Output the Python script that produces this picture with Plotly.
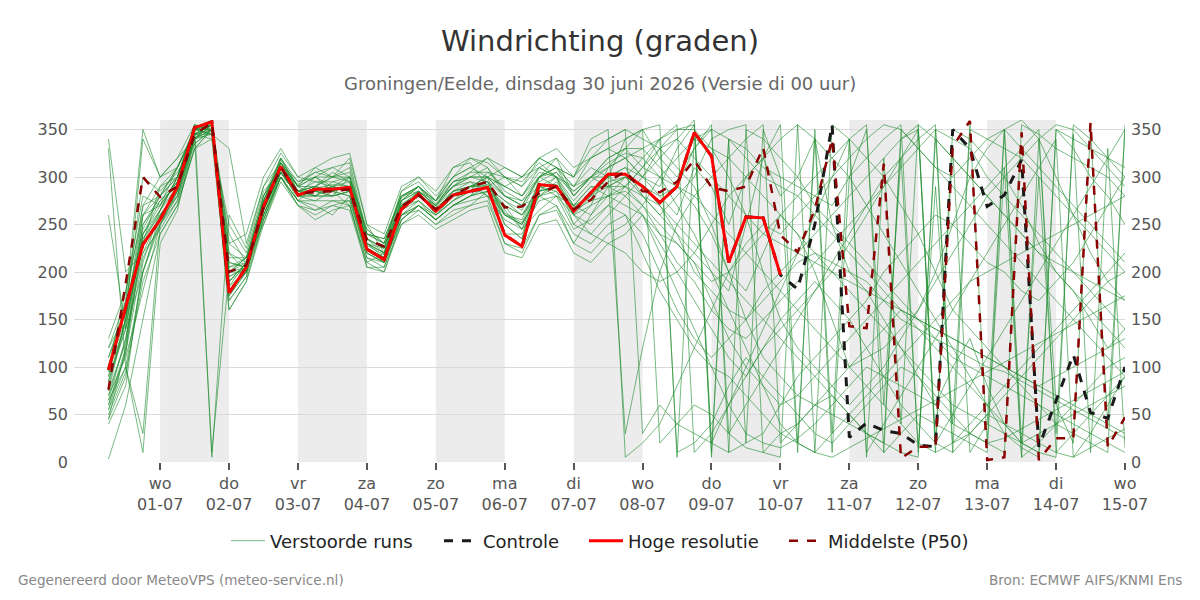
import pandas as pd
import plotly.graph_objects as go

# ---------------- data ----------------
start = "2026-06-30 06:00"
n_steps = 60
times = pd.date_range(start, periods=n_steps, freq="6h")

hres = [97, 163, 229, 255, 290, 352, 358, 178, 205, 269,
        311, 281, 287, 287, 289, 224, 213, 266, 282, 264,
        281, 285, 289, 239, 227, 292, 290, 264, 284, 303,
        303, 290, 273, 290, 347, 322, 210, 258, 257, 197]

control = [97, 163, 229, 255, 290, 352, 358, 178, 205, 269,
           311, 281, 287, 287, 289, 224, 213, 266, 282, 264,
           281, 285, 289, 239, 227, 292, 290, 264, 284, 303,
           303, 290, 273, 290, 347, 322, 210, 258, 257, 197,
           182, 250, 355, 26, 41, 33, 30, 18, 16, 350,
           330, 269, 281, 318, 16, 65, 113, 52, 46, 100]

p50 = [76, 190, 300, 279, 290, 345, 357, 200, 207, 268,
       310, 283, 284, 285, 287, 234, 227, 269, 281, 266,
       281, 290, 295, 268, 269, 283, 290, 266, 276, 295,
       306, 285, 284, 295, 318, 289, 285, 290, 331, 239,
       221, 266, 340, 143, 141, 314, 4, 16, 16, 332,
       359, 2, 5, 347, 2, 25, 25, 357, 16, 47]

members = [
    [60, 120, 250, 280, 300, 340, 350, 200, 210, 265, 315, 290, 280, 295, 300, 230, 215, 270, 285, 270,
     290, 300, 295, 260, 250, 285, 300, 250, 270, 310, 320, 300, 280, 260, 310, 290, 250, 300, 320, 280,
     300, 340, 250, 200, 180, 150, 120, 90, 60, 100, 130, 80, 40, 20, 10, 350, 330, 300, 280, 250],
    [100, 180, 280, 270, 310, 350, 345, 220, 200, 260, 300, 275, 270, 260, 280, 215, 205, 260, 275, 255,
     270, 280, 300, 290, 280, 300, 310, 280, 300, 320, 330, 310, 300, 290, 270, 240, 200, 180, 220, 260,
     240, 200, 150, 100, 80, 60, 40, 20, 10, 350, 340, 320, 300, 270, 230, 200, 180, 150, 120, 140],
    [45, 90, 200, 260, 280, 345, 355, 170, 195, 280, 320, 285, 290, 305, 295, 235, 225, 285, 300, 280,
     300, 320, 310, 280, 270, 280, 270, 240, 230, 250, 260, 220, 180, 150, 120, 100, 90, 70, 50, 30,
     20, 10, 355, 340, 320, 300, 270, 240, 200, 160, 140, 120, 100, 80, 60, 40, 30, 20, 10, 355],
    [340, 200, 220, 245, 275, 330, 350, 190, 210, 275, 310, 280, 300, 285, 270, 210, 220, 275, 290, 275,
     310, 315, 290, 300, 280, 310, 300, 290, 310, 300, 340, 350, 320, 300, 330, 355, 10, 20, 30, 60,
     90, 110, 130, 150, 170, 200, 220, 240, 260, 250, 230, 210, 200, 180, 170, 190, 210, 240, 270, 300],
    [80, 150, 230, 290, 300, 355, 5, 260, 225, 290, 325, 300, 295, 290, 285, 245, 230, 260, 265, 250,
     260, 270, 285, 270, 245, 265, 280, 270, 290, 280, 270, 260, 240, 230, 210, 190, 200, 230, 250, 240,
     260, 280, 300, 320, 340, 355, 350, 330, 310, 300, 320, 340, 350, 5, 20, 40, 60, 80, 100, 110],
    [120, 170, 270, 300, 320, 340, 360, 230, 215, 250, 300, 270, 260, 270, 275, 220, 210, 255, 270, 260,
     275, 290, 300, 310, 300, 320, 310, 300, 330, 340, 350, 30, 60, 40, 30, 20, 10, 350, 340, 320,
     300, 270, 250, 230, 210, 190, 170, 150, 130, 110, 100, 90, 80, 70, 60, 50, 40, 30, 20, 10],
    [55, 100, 10, 230, 265, 340, 355, 160, 190, 255, 305, 285, 285, 280, 300, 240, 235, 280, 290, 265,
     285, 290, 280, 230, 220, 260, 270, 230, 260, 290, 280, 300, 330, 350, 350, 330, 300, 260, 200, 150,
     120, 100, 80, 60, 80, 100, 130, 160, 190, 220, 250, 280, 300, 320, 340, 355, 350, 330, 310, 290],
    [90, 140, 240, 275, 295, 350, 350, 210, 205, 265, 315, 290, 310, 300, 320, 250, 220, 270, 280, 270,
     295, 300, 300, 250, 235, 300, 320, 280, 300, 290, 300, 280, 270, 240, 200, 180, 160, 150, 170, 190,
     210, 220, 210, 200, 190, 170, 150, 140, 130, 120, 110, 100, 95, 85, 75, 65, 55, 45, 35, 25],
    [70, 110, 180, 250, 285, 345, 340, 250, 220, 285, 305, 280, 275, 285, 290, 225, 210, 265, 285, 260,
     280, 285, 305, 300, 290, 310, 300, 260, 250, 270, 290, 310, 340, 10, 20, 40, 80, 110, 90, 70,
     50, 30, 20, 40, 60, 80, 100, 90, 70, 50, 30, 20, 10, 355, 345, 330, 320, 310, 300, 280],
    [110, 160, 300, 285, 305, 335, 350, 180, 200, 270, 310, 275, 290, 285, 280, 225, 215, 270, 275, 260,
     275, 285, 290, 240, 240, 280, 295, 270, 280, 300, 310, 280, 260, 280, 300, 340, 350, 355, 10, 30,
     40, 60, 70, 50, 30, 20, 10, 5, 350, 340, 330, 300, 280, 260, 240, 220, 200, 180, 160, 140],
    [40, 80, 210, 265, 290, 350, 355, 190, 210, 260, 300, 285, 280, 290, 300, 230, 225, 275, 285, 270,
     290, 295, 280, 270, 260, 290, 280, 260, 240, 230, 220, 200, 190, 200, 220, 250, 280, 300, 320, 340,
     355, 10, 30, 50, 70, 90, 110, 130, 150, 170, 190, 200, 210, 220, 230, 240, 250, 260, 270, 280],
    [130, 180, 260, 290, 310, 345, 345, 240, 210, 275, 315, 285, 295, 295, 290, 235, 220, 260, 270, 255,
     270, 280, 285, 260, 255, 295, 305, 285, 300, 320, 330, 330, 310, 290, 280, 260, 240, 220, 200, 180,
     160, 140, 120, 100, 110, 120, 140, 160, 200, 250, 300, 330, 350, 360, 340, 300, 260, 220, 190, 170],
    [65, 130, 230, 255, 280, 340, 10, 200, 215, 265, 305, 280, 285, 280, 285, 230, 220, 275, 290, 270,
     285, 290, 295, 280, 270, 300, 290, 270, 290, 290, 290, 270, 250, 230, 210, 170, 130, 100, 80, 60,
     70, 90, 110, 130, 150, 170, 190, 210, 230, 250, 270, 290, 310, 330, 350, 10, 30, 50, 70, 90],
    [85, 150, 340, 300, 320, 355, 350, 210, 205, 270, 320, 290, 290, 300, 305, 240, 230, 285, 295, 275,
     300, 310, 300, 290, 300, 320, 330, 310, 320, 330, 340, 350, 355, 5, 340, 330, 320, 300, 280, 260,
     240, 220, 200, 180, 160, 140, 120, 100, 80, 60, 50, 40, 30, 20, 30, 40, 50, 60, 70, 80],
    [50, 95, 190, 240, 270, 330, 340, 170, 195, 255, 300, 275, 265, 275, 270, 205, 205, 250, 265, 250,
     265, 270, 275, 230, 225, 260, 265, 230, 220, 240, 250, 270, 300, 320, 340, 350, 30, 60, 90, 120,
     150, 180, 210, 240, 270, 300, 320, 340, 355, 20, 40, 60, 80, 100, 120, 140, 160, 180, 200, 220],
    [75, 125, 260, 270, 295, 345, 355, 185, 210, 270, 310, 285, 280, 290, 285, 225, 215, 270, 280, 265,
     285, 290, 290, 260, 250, 285, 290, 260, 280, 290, 300, 290, 280, 290, 330, 350, 340, 320, 300, 290,
     280, 260, 240, 220, 200, 180, 160, 140, 120, 100, 80, 60, 40, 20, 10, 5, 355, 340, 320, 300],
    [95, 160, 240, 265, 300, 350, 360, 200, 200, 260, 305, 280, 285, 290, 295, 230, 220, 265, 280, 265,
     280, 290, 295, 265, 245, 290, 300, 275, 295, 310, 320, 300, 290, 330, 355, 10, 340, 20, 350, 300,
     10, 350, 30, 340, 5, 320, 40, 355, 20, 330, 10, 40, 350, 20, 300, 30, 345, 10, 330, 15],
    [60, 115, 215, 250, 285, 340, 350, 175, 200, 265, 305, 280, 280, 280, 285, 220, 210, 265, 275, 260,
     275, 285, 290, 270, 260, 280, 285, 265, 275, 280, 290, 280, 260, 240, 220, 200, 180, 250, 320, 355,
     20, 340, 10, 300, 350, 60, 320, 15, 290, 40, 355, 20, 310, 5, 340, 60, 20, 350, 40, 350],
    [3, 60, 150, 240, 270, 330, 350, 230, 240, 300, 330, 300, 310, 320, 325, 250, 240, 290, 300, 285,
     310, 320, 315, 300, 290, 320, 310, 290, 320, 340, 350, 340, 330, 310, 290, 250, 200, 150, 110, 90,
     70, 60, 50, 40, 30, 20, 340, 350, 10, 20, 30, 50, 70, 90, 110, 130, 150, 170, 190, 200],
    [330, 100, 30, 250, 275, 340, 345, 330, 230, 290, 315, 295, 300, 310, 315, 240, 230, 280, 285, 275,
     300, 310, 320, 310, 300, 310, 320, 300, 340, 350, 5, 20, 40, 80, 120, 160, 200, 220, 240, 260,
     280, 300, 320, 340, 355, 10, 30, 50, 40, 30, 20, 10, 350, 330, 310, 290, 270, 250, 230, 210],
    [260, 140, 200, 255, 290, 345, 355, 195, 205, 260, 300, 270, 255, 265, 270, 210, 200, 250, 260, 245,
     255, 265, 270, 220, 215, 250, 255, 220, 210, 230, 240, 260, 230, 200, 170, 140, 110, 90, 120, 150,
     170, 190, 170, 150, 120, 90, 60, 40, 20, 10, 350, 340, 330, 320, 300, 280, 260, 240, 220, 200],
    [90, 170, 350, 300, 310, 350, 350, 160, 190, 250, 295, 270, 265, 270, 265, 205, 200, 255, 270, 255,
     270, 280, 290, 275, 265, 300, 310, 290, 300, 310, 330, 350, 20, 40, 60, 50, 30, 15, 10, 5,
     355, 340, 320, 300, 270, 240, 210, 180, 150, 120, 90, 60, 30, 15, 5, 350, 340, 330, 320, 310],
    [100, 150, 260, 280, 300, 355, 350, 215, 215, 275, 320, 295, 305, 310, 300, 240, 235, 280, 290, 275,
     290, 305, 320, 300, 295, 315, 300, 270, 260, 280, 300, 320, 340, 355, 10, 30, 60, 90, 120, 140,
     160, 180, 200, 230, 260, 290, 320, 350, 20, 50, 80, 110, 140, 170, 200, 230, 260, 290, 320, 350],
    [70, 130, 220, 260, 285, 345, 355, 175, 200, 265, 305, 280, 285, 285, 290, 225, 215, 265, 280, 265,
     280, 290, 300, 280, 275, 290, 285, 250, 240, 260, 280, 260, 220, 180, 140, 100, 60, 30, 20, 15,
     25, 40, 60, 80, 100, 90, 80, 70, 60, 40, 30, 20, 25, 35, 45, 55, 65, 75, 85, 95],
    [55, 115, 240, 270, 295, 340, 360, 200, 215, 280, 310, 290, 300, 290, 285, 235, 225, 275, 285, 270,
     295, 300, 300, 280, 270, 300, 310, 300, 320, 330, 320, 330, 340, 350, 355, 5, 340, 330, 310, 300,
     290, 280, 270, 300, 320, 340, 355, 10, 340, 320, 300, 280, 260, 240, 220, 210, 200, 190, 180, 170],
    [120, 155, 235, 265, 300, 350, 355, 220, 210, 270, 315, 285, 290, 300, 295, 230, 220, 270, 280, 265,
     285, 295, 290, 250, 235, 285, 290, 260, 270, 280, 285, 270, 240, 210, 190, 160, 140, 130, 150, 170,
     190, 210, 230, 250, 270, 290, 310, 330, 350, 10, 30, 50, 40, 30, 20, 10, 5, 15, 25, 35],
    [85, 140, 250, 275, 290, 345, 350, 190, 205, 270, 310, 285, 290, 285, 280, 220, 210, 260, 270, 255,
     270, 280, 285, 260, 250, 280, 290, 265, 285, 300, 30, 120, 200, 250, 280, 300, 320, 340, 355, 20,
     40, 60, 80, 100, 120, 140, 160, 150, 140, 130, 120, 110, 100, 90, 80, 90, 100, 110, 120, 130],
    [65, 100, 200, 250, 280, 335, 350, 185, 200, 255, 300, 275, 275, 275, 275, 215, 210, 255, 270, 255,
     270, 275, 280, 255, 245, 275, 280, 245, 255, 270, 260, 240, 200, 160, 130, 110, 130, 150, 180, 200,
     220, 240, 260, 280, 300, 320, 340, 355, 340, 320, 300, 280, 260, 240, 220, 200, 180, 160, 140, 120],
    [45, 120, 230, 265, 300, 350, 355, 205, 210, 275, 318, 290, 300, 300, 300, 245, 230, 280, 290, 275,
     295, 305, 305, 290, 280, 305, 300, 285, 300, 315, 325, 320, 300, 270, 240, 200, 160, 120, 80, 40,
     20, 10, 5, 15, 25, 35, 45, 55, 65, 75, 85, 95, 105, 115, 125, 135, 145, 155, 165, 175],
    [110, 165, 245, 280, 310, 350, 345, 200, 205, 265, 305, 280, 280, 280, 285, 225, 215, 265, 280, 265,
     280, 285, 290, 275, 260, 285, 290, 265, 285, 300, 310, 300, 320, 340, 360, 20, 60, 100, 140, 180,
     220, 260, 300, 340, 10, 40, 70, 100, 130, 160, 190, 220, 250, 280, 310, 340, 5, 30, 60, 90],
    [75, 150, 270, 280, 310, 345, 350, 205, 215, 280, 312, 292, 305, 300, 310, 235, 225, 278, 290, 272,
     290, 300, 310, 285, 275, 300, 305, 280, 300, 300, 290, 310, 330, 340, 320, 300, 280, 260, 240, 230,
     220, 210, 200, 190, 180, 170, 160, 150, 140, 130, 120, 110, 100, 90, 80, 70, 60, 50, 40, 30],
    [95, 145, 235, 260, 285, 340, 355, 195, 205, 270, 308, 282, 288, 292, 290, 228, 218, 272, 282, 268,
     282, 290, 292, 262, 252, 290, 292, 268, 282, 295, 300, 290, 270, 250, 230, 210, 190, 170, 150, 130,
     110, 90, 70, 50, 30, 10, 350, 330, 310, 290, 270, 250, 230, 210, 190, 170, 150, 130, 110, 90],
]

day_names = ["ma", "di", "wo", "do", "vr", "za", "zo"]
tick_days = pd.date_range("2026-07-01", "2026-07-15", freq="D")
tick_text = [f"{day_names[d.weekday()]}<br>{d.strftime('%d-%m')}" for d in tick_days]
shade_days = pd.date_range("2026-07-01", "2026-07-13", freq="2D")

title = "Windrichting (graden)"
subtitle = "Groningen/Eelde, dinsdag 30 juni 2026 (Versie di 00 uur)"
footer_left = "Gegenereerd door MeteoVPS (meteo-service.nl)"
footer_right = "Bron: ECMWF AIFS/KNMI Ens"

# ---------------- figure ----------------
FONT = "DejaVu Sans"
L, R, T, B = 74, 75, 120, 138
PW, PH = 1200 - L - R, 600 - T - B


def px_x(px):
    return (px - L) / PW


def px_y(py):
    return (600 - B - py) / PH


fig = go.Figure()

for k, m in enumerate(members):
    fig.add_trace(go.Scatter(
        x=times[:len(m)], y=m, mode="lines",
        line=dict(color="rgba(30,140,45,0.6)", width=1),
        name="Verstoorde runs", legendgroup="ens", showlegend=(k == 0),
        legend="legend", hoverinfo="skip"))

fig.add_trace(go.Scatter(x=times[:len(control)], y=control, mode="lines",
                         line=dict(color="#1a1a1a", width=3, dash="dash"),
                         name="Controle", legend="legend2"))
fig.add_trace(go.Scatter(x=times[:len(hres)], y=hres, mode="lines",
                         line=dict(color="#ff0000", width=3),
                         name="Hoge resolutie", legend="legend3"))
fig.add_trace(go.Scatter(x=times[:len(p50)], y=p50, mode="lines",
                         line=dict(color="#8b0000", width=2.5, dash="dash"),
                         name="Middelste (P50)", legend="legend4"))
# helper trace for right axis
fig.add_trace(go.Scatter(x=[times[0]], y=[0], yaxis="y2", mode="markers",
                         marker=dict(opacity=0), showlegend=False, hoverinfo="skip"))

shapes = []
for d in shade_days:
    shapes.append(dict(type="rect", xref="x", yref="paper",
                       x0=d, x1=d + pd.Timedelta(days=1), y0=0, y1=1,
                       fillcolor="#ececec", line=dict(width=0), layer="below"))

leg_common = dict(orientation="h", xanchor="left", yanchor="middle", y=px_y(541),
                  font=dict(size=18, color="#222", family=FONT),
                  bgcolor="rgba(0,0,0,0)", itemwidth=34)

fig.update_layout(
    width=1200, height=600,
    margin=dict(l=L, r=R, t=T, b=B),
    paper_bgcolor="white", plot_bgcolor="white",
    font=dict(family=FONT, color="#444"),
    shapes=shapes,
    title=dict(text=title, x=0.5, xref="container", y=1 - 41 / 600, yref="container",
               xanchor="center", yanchor="middle",
               font=dict(size=29, color="#333", family=FONT)),
    xaxis=dict(range=[pd.Timestamp("2026-06-29 18:00"), pd.Timestamp("2026-07-15 00:00")],
               tickvals=list(tick_days), ticktext=tick_text,
               ticks="outside", ticklen=7, tickcolor="#555", tickwidth=1.5,
               tickfont=dict(size=16, color="#555"), showgrid=False,
               showline=False, zeroline=False),
    yaxis=dict(range=[0, 360], tickvals=list(range(0, 360, 50)),
               tickfont=dict(size=16, color="#555"), ticklabelstandoff=5,
               gridcolor="#dadada", gridwidth=1, zeroline=False, showline=False),
    yaxis2=dict(range=[0, 360], tickvals=list(range(0, 360, 50)), overlaying="y",
                side="right", showgrid=False, zeroline=False, ticklabelstandoff=5,
                tickfont=dict(size=16, color="#555")),
    legend=dict(x=px_x(226), **leg_common),
    legend2=dict(x=px_x(439), **leg_common),
    legend3=dict(x=px_x(584), **leg_common),
    legend4=dict(x=px_x(784), **leg_common),
    annotations=[
        dict(text=subtitle, x=0.5, xref="paper", y=px_y(83), yref="paper",
             xanchor="center", yanchor="middle", showarrow=False,
             font=dict(size=18, color="#666", family=FONT)),
        dict(text=footer_left, x=px_x(16), xref="paper", y=px_y(580),
             yref="paper", xanchor="left", yanchor="middle", showarrow=False,
             font=dict(size=13.6, color="#888", family=FONT)),
        dict(text=footer_right, x=px_x(1184), xref="paper", y=px_y(580),
             yref="paper", xanchor="right", yanchor="middle", showarrow=False,
             font=dict(size=13.6, color="#888", family=FONT)),
    ],
    hovermode=False,
)

fig.write_html("out.html")
